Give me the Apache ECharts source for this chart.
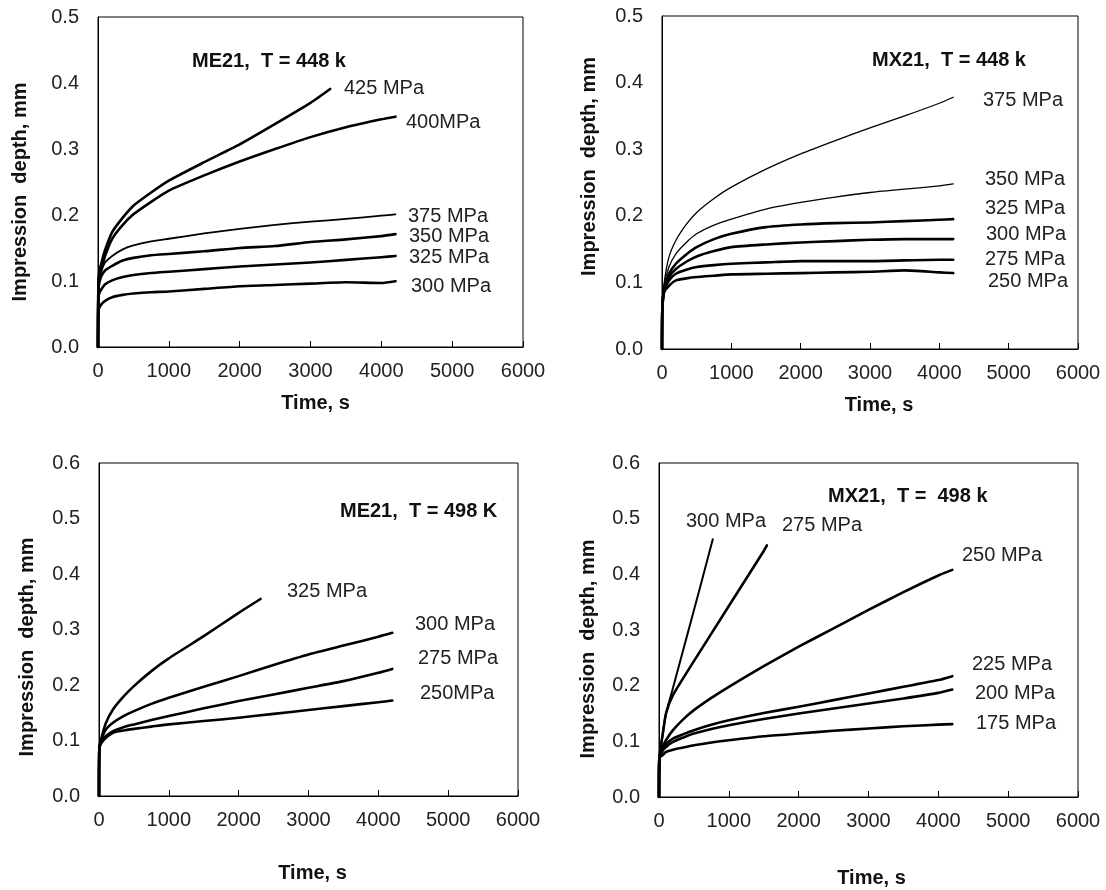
<!DOCTYPE html>
<html>
<head>
<meta charset="utf-8">
<script src="https://cdn.jsdelivr.net/npm/echarts@6/dist/echarts.min.js"></script>
<style>
html,body{margin:0;padding:0;background:#fff;}
#c{width:1106px;height:890px;}
</style>
</head>
<body>
<div id="c"></div>
<script>
// ---- Data (time in s, impression depth in mm) ----
const xTicks = [0, 1000, 2000, 3000, 4000, 5000, 6000];

// Panel 1: ME21, T = 448 k
const p1Title = 'ME21,  T = 448 k';
const p1Names = ['425 MPa', '400MPa', '375 MPa', '350 MPa', '325 MPa', '300 MPa'];
const p1T425 = [0, 5, 20, 50, 100, 200, 350, 500, 750, 1000, 1500, 2000, 2500, 3000, 3278];
const p1V425 = [0, 0.10, 0.115, 0.128, 0.147, 0.174, 0.196, 0.214, 0.234, 0.252, 0.280, 0.307, 0.338, 0.370, 0.391];
const p1T = [0, 5, 20, 50, 100, 200, 350, 500, 750, 1000, 1500, 2000, 2500, 3000, 3500, 4000, 4200];
const p1V400 = [0, 0.095, 0.108, 0.118, 0.138, 0.164, 0.185, 0.201, 0.220, 0.237, 0.260, 0.281, 0.300, 0.318, 0.333, 0.345, 0.349];
const p1V375 = [0, 0.090, 0.105, 0.116, 0.128, 0.138, 0.148, 0.154, 0.160, 0.164, 0.172, 0.179, 0.185, 0.190, 0.194, 0.199, 0.201];
const p1V350 = [0, 0.085, 0.098, 0.108, 0.116, 0.123, 0.131, 0.135, 0.139, 0.141, 0.145, 0.150, 0.153, 0.159, 0.163, 0.168, 0.171];
const p1V325 = [0, 0.075, 0.082, 0.088, 0.095, 0.101, 0.106, 0.109, 0.112, 0.114, 0.118, 0.122, 0.125, 0.128, 0.132, 0.136, 0.138];
const p1V300 = [0, 0.055, 0.060, 0.065, 0.070, 0.0755, 0.079, 0.081, 0.083, 0.084, 0.088, 0.092, 0.094, 0.096, 0.098, 0.097, 0.0997];

// Panel 2: MX21, T = 448 k
const p2Title = 'MX21,  T = 448 k';
const p2Names = ['375 MPa', '350 MPa', '325 MPa', '300 MPa', '275 MPa', '250 MPa'];
const p2T = [0, 5, 30, 100, 200, 350, 500, 750, 1000, 1500, 2000, 2500, 3000, 3500, 4000, 4200];
const p2V375 = [0, 0.06, 0.098, 0.138, 0.163, 0.187, 0.205, 0.226, 0.243, 0.270, 0.293, 0.313, 0.332, 0.350, 0.369, 0.378];
const p2V350 = [0, 0.06, 0.095, 0.123, 0.143, 0.160, 0.173, 0.186, 0.195, 0.210, 0.220, 0.228, 0.235, 0.240, 0.245, 0.248];
const p2V325 = [0, 0.06, 0.090, 0.113, 0.128, 0.142, 0.153, 0.165, 0.173, 0.183, 0.187, 0.189, 0.190, 0.192, 0.194, 0.195];
const p2V300 = [0, 0.06, 0.088, 0.108, 0.120, 0.131, 0.139, 0.147, 0.153, 0.157, 0.160, 0.162, 0.164, 0.165, 0.165, 0.165];
const p2V275 = [0, 0.06, 0.088, 0.103, 0.113, 0.119, 0.123, 0.126, 0.128, 0.130, 0.132, 0.132, 0.132, 0.133, 0.134, 0.134];
const p2V250 = [0, 0.06, 0.085, 0.095, 0.103, 0.106, 0.108, 0.110, 0.112, 0.113, 0.114, 0.115, 0.116, 0.118, 0.115, 0.114];

// Panel 3: ME21, T = 498 K
const p3Title = 'ME21,  T = 498 K';
const p3Names = ['325 MPa', '300 MPa', '275 MPa', '250MPa'];
const p3T325 = [0, 5, 30, 100, 200, 350, 500, 750, 1000, 1500, 2000, 2313];
const p3V325 = [0, 0.085, 0.102, 0.132, 0.156, 0.179, 0.198, 0.225, 0.248, 0.288, 0.330, 0.355];
const p3T = [0, 5, 30, 100, 200, 350, 500, 750, 1000, 1500, 2000, 2500, 3000, 3500, 4000, 4200];
const p3V300 = [0, 0.085, 0.100, 0.120, 0.132, 0.144, 0.153, 0.166, 0.177, 0.197, 0.216, 0.236, 0.255, 0.271, 0.287, 0.294];
const p3V275 = [0, 0.085, 0.098, 0.108, 0.117, 0.124, 0.129, 0.137, 0.144, 0.158, 0.171, 0.183, 0.195, 0.207, 0.222, 0.229];
const p3V250 = [0, 0.085, 0.095, 0.105, 0.114, 0.118, 0.121, 0.125, 0.129, 0.135, 0.141, 0.148, 0.155, 0.162, 0.169, 0.172];

// Panel 4: MX21, T = 498 k
const p4Title = 'MX21,  T =  498 k';
const p4Names = ['300 MPa', '275 MPa', '250 MPa', '225 MPa', '200 MPa', '175 MPa'];
const p4T300 = [0, 5, 50, 100, 200, 400, 600, 770];
const p4V300 = [0, 0.07, 0.11, 0.15, 0.196, 0.289, 0.382, 0.463];
const p4T275 = [0, 5, 50, 100, 200, 500, 1000, 1500, 1545];
const p4V275 = [0, 0.07, 0.11, 0.15, 0.183, 0.244, 0.343, 0.442, 0.452];
const p4T = [0, 5, 50, 100, 200, 350, 500, 750, 1000, 1500, 2000, 2500, 3000, 3500, 4000, 4200];
const p4V250 = [0, 0.07, 0.090, 0.102, 0.120, 0.140, 0.156, 0.178, 0.198, 0.235, 0.270, 0.303, 0.336, 0.368, 0.398, 0.408];
const p4V225 = [0, 0.07, 0.085, 0.095, 0.105, 0.113, 0.120, 0.130, 0.138, 0.151, 0.162, 0.174, 0.186, 0.198, 0.210, 0.217];
const p4V200 = [0, 0.07, 0.083, 0.090, 0.099, 0.107, 0.114, 0.122, 0.129, 0.140, 0.150, 0.159, 0.168, 0.177, 0.187, 0.193];
const p4V175 = [0, 0.07, 0.075, 0.081, 0.085, 0.089, 0.093, 0.098, 0.102, 0.109, 0.114, 0.119, 0.123, 0.127, 0.130, 0.131];

const yNameText = 'Impression  depth, mm';
const xNameText = 'Time, s';

// ---- Helpers ----
function pairs(t, v) { return t.map((x, i) => [x, v[i]]); }
const FONT = 'Liberation Sans, Arial, sans-serif';

const grids = [
  {left: 98, top: 17, width: 425, height: 330},
  {left: 662, top: 16, width: 416, height: 333},
  {left: 99, top: 463, width: 419, height: 333},
  {left: 659, top: 463, width: 419, height: 334}
];
const yMax = [0.5, 0.5, 0.6, 0.6];
const xNameGap = [46, 46, 67, 71];
const xNamePad = [[0,0,0,10],[0,0,0,18],[0,0,0,8],[0,0,0,6]];
const yNameGap = [68, 63, 62, 61];
const yNamePad = [[0,20,0,0],[0,0,0,32],[0,35,0,0],[0,38,0,0]];

const option = {
  backgroundColor: '#ffffff',
  animation: false,
  grid: grids.map(g => Object.assign({show: true, borderColor: '#000', borderWidth: 1, containLabel: false}, g)),
  xAxis: grids.map((g, i) => ({
    type: 'value', gridIndex: i, min: xTicks[0], max: xTicks[xTicks.length - 1], interval: 1000,
    name: xNameText, nameLocation: 'middle', nameGap: xNameGap[i],
    nameTextStyle: {fontFamily: FONT, fontWeight: 'bold', fontSize: 20, color: '#111', padding: xNamePad[i]},
    axisLine: {show: true, lineStyle: {color: '#000', width: 1}},
    axisTick: {show: true, inside: true, length: 6, lineStyle: {color: '#000'}},
    axisLabel: {fontFamily: FONT, fontSize: 20, color: '#222', margin: 14, formatter: v => String(v)},
    splitLine: {show: false}
  })),
  yAxis: grids.map((g, i) => ({
    type: 'value', gridIndex: i, min: 0, max: yMax[i], interval: 0.1,
    name: yNameText, nameLocation: 'middle', nameGap: yNameGap[i], nameRotate: 90,
    nameTextStyle: {fontFamily: FONT, fontWeight: 'bold', fontSize: 20, color: '#111', padding: yNamePad[i]},
    axisLine: {show: true, lineStyle: {color: '#000', width: 1}},
    axisTick: {show: false},
    axisLabel: {fontFamily: FONT, fontSize: 20, color: '#222', margin: 19, formatter: v => v.toFixed(1)},
    splitLine: {show: false}
  })),
  series: []
};

function addLine(name, gi, t, v, w) {
  option.series.push({
    type: 'line', name: name, xAxisIndex: gi, yAxisIndex: gi,
    data: pairs(t, v), showSymbol: false, symbol: 'none',
    smooth: 0.2,
    lineStyle: {color: '#000', width: w, join: 'round', cap: 'round'}
  });
}

addLine(p1Names[0], 0, p1T425, p1V425, 2.6);
addLine(p1Names[1], 0, p1T, p1V400, 2.6);
addLine(p1Names[2], 0, p1T, p1V375, 1.8);
addLine(p1Names[3], 0, p1T, p1V350, 2.6);
addLine(p1Names[4], 0, p1T, p1V325, 2.6);
addLine(p1Names[5], 0, p1T, p1V300, 2.6);

addLine(p2Names[0], 1, p2T, p2V375, 1.3);
addLine(p2Names[1], 1, p2T, p2V350, 1.3);
addLine(p2Names[2], 1, p2T, p2V325, 2.6);
addLine(p2Names[3], 1, p2T, p2V300, 2.6);
addLine(p2Names[4], 1, p2T, p2V275, 2.6);
addLine(p2Names[5], 1, p2T, p2V250, 2.6);

addLine(p3Names[0], 2, p3T325, p3V325, 2.6);
addLine(p3Names[1], 2, p3T, p3V300, 2.6);
addLine(p3Names[2], 2, p3T, p3V275, 2.6);
addLine(p3Names[3], 2, p3T, p3V250, 2.6);

addLine(p4Names[0], 3, p4T300, p4V300, 2);
addLine(p4Names[1], 3, p4T275, p4V275, 2.6);
addLine(p4Names[2], 3, p4T, p4V250, 2.6);
addLine(p4Names[3], 3, p4T, p4V225, 2.6);
addLine(p4Names[4], 3, p4T, p4V200, 2.6);
addLine(p4Names[5], 3, p4T, p4V175, 2.6);

// ---- Annotation texts ----
function txt(s, x, y, bold) {
  return {type: 'text', left: x, top: y - 11, silent: true,
    style: {text: s, fontFamily: FONT, fontSize: 20, fontWeight: bold ? 'bold' : 'normal', fill: bold ? '#111' : '#222'}};
}
option.graphic = [
  txt(p1Title, 192, 62, true),
  txt(p1Names[0], 344, 89), txt(p1Names[1], 406, 123), txt(p1Names[2], 408, 217),
  txt(p1Names[3], 409, 237), txt(p1Names[4], 409, 258), txt(p1Names[5], 411, 287),

  txt(p2Title, 872, 61, true),
  txt(p2Names[0], 983, 101), txt(p2Names[1], 985, 180), txt(p2Names[2], 985, 209),
  txt(p2Names[3], 986, 235), txt(p2Names[4], 985, 260), txt(p2Names[5], 988, 282),

  txt(p3Title, 340, 512, true),
  txt(p3Names[0], 287, 592), txt(p3Names[1], 415, 625), txt(p3Names[2], 418, 659), txt(p3Names[3], 420, 694),

  txt(p4Title, 828, 497, true),
  txt(p4Names[0], 686, 522), txt(p4Names[1], 782, 526), txt(p4Names[2], 962, 556),
  txt(p4Names[3], 972, 665), txt(p4Names[4], 975, 694), txt(p4Names[5], 976, 724)
];

const chart = echarts.init(document.getElementById('c'), null, {renderer: 'canvas'});
chart.setOption(option);
</script>
</body>
</html>
